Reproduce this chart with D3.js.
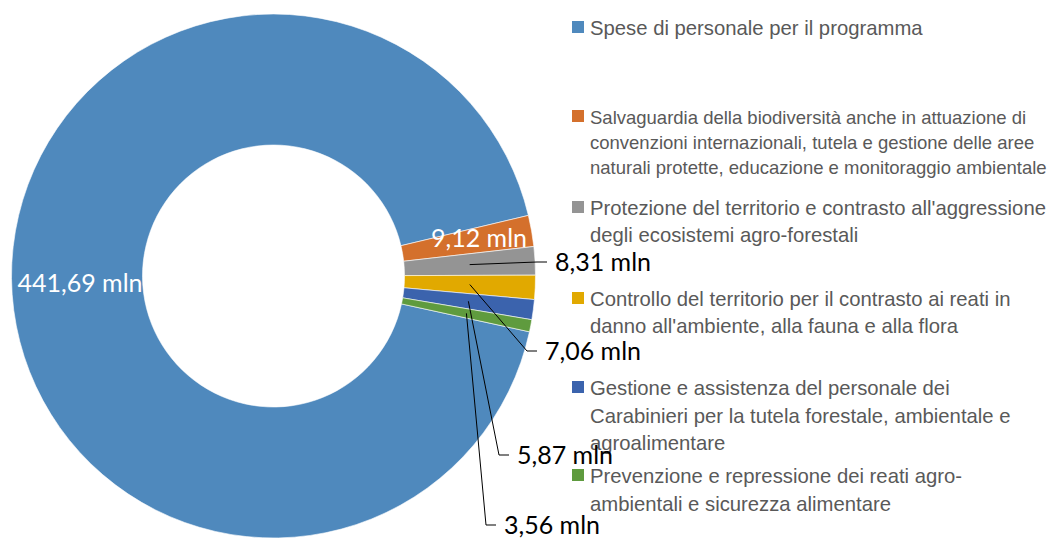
<!DOCTYPE html>
<html>
<head>
<meta charset="utf-8">
<script src="https://cdn.jsdelivr.net/npm/d3@7"></script>
<style>
  html, body { margin: 0; padding: 0; background: #fff; }
  svg { display: block; }
</style>
</head>
<body>
<div id="chart"></div>
<script>
// dati del grafico (milioni di euro)
const categories = [
  "Spese di personale per il programma",
  "Salvaguardia della biodiversità anche in attuazione di convenzioni internazionali, tutela e gestione delle aree naturali protette, educazione e monitoraggio ambientale",
  "Protezione del territorio e contrasto all'aggressione degli ecosistemi agro-forestali",
  "Controllo del territorio per il contrasto ai reati in danno all'ambiente, alla fauna e alla flora",
  "Gestione e assistenza del personale dei Carabinieri per la tutela forestale, ambientale e agroalimentare",
  "Prevenzione e repressione dei reati agro-ambientali e sicurezza alimentare"
];
const values = [441.69, 9.12, 8.31, 7.06, 5.87, 3.56];
const valueLabels = ["441,69 mln", "9,12 mln", "8,31 mln", "7,06 mln", "5,87 mln", "3,56 mln"];
// righe della legenda come vanno a capo nell'originale
const legendLines = [
  ["Spese di personale per il programma"],
  ["Salvaguardia della biodiversità anche in attuazione di",
   "convenzioni internazionali, tutela e gestione delle aree",
   "naturali protette, educazione e monitoraggio ambientale"],
  ["Protezione del territorio e contrasto all'aggressione",
   "degli ecosistemi agro-forestali"],
  ["Controllo del territorio per il contrasto ai reati in",
   "danno all'ambiente, alla fauna e alla flora"],
  ["Gestione e assistenza del personale dei",
   "Carabinieri per la tutela forestale, ambientale e",
   "agroalimentare"],
  ["Prevenzione e repressione dei reati agro-",
   "ambientali e sicurezza alimentare"]
];
const colors = ["#4f89bd", "#d4702c", "#949494", "#e1a900", "#3b63ad", "#5f9b3e"];

// layout
const W = 1050, H = 539;
const cx = 273.5, cy = 276, R = 262, r = 131;
const start = 102.3 * Math.PI / 180;
// legenda: linea di base della prima riga, dimensione carattere e interlinea di ogni voce
const legendBase = [35, 124, 215, 306, 395, 483];
const legendSize = [20.3, 18.5, 20.3, 20.3, 20.3, 20.3];
const legendLead = [26, 25, 26.5, 26.5, 27.5, 28];
// etichette esterne: gomito della linea guida (posizione manuale come nell'originale)
const elbows = { 2: [537, 262], 3: [527, 351], 4: [499, 455], 5: [486, 525] };
// spostamento delle etichette interne rispetto al centroide
const nudges = { 0: [3, 5], 1: [12, -4] };

const svg = d3.select("#chart").append("svg")
  .attr("width", W).attr("height", H);

const pie = d3.pie().sort(null).value(d => d)
  .startAngle(start).endAngle(start + 2 * Math.PI);
const arc = d3.arc().innerRadius(r).outerRadius(R);
const arcs = pie(values);

const g = svg.append("g").attr("transform", `translate(${cx},${cy})`);

g.selectAll("path.slice").data(arcs).enter().append("path")
  .attr("class", "slice")
  .attr("d", arc)
  .attr("fill", (d, i) => colors[i])
  .attr("stroke", "#fff").attr("stroke-width", 0.6);

// legenda
const legend = svg.append("g").attr("class", "legend");
const item = legend.selectAll("g").data(categories).enter().append("g")
  .attr("transform", (d, i) => `translate(572,${legendBase[i]})`);
item.append("rect").attr("y", -14).attr("width", 12).attr("height", 12)
  .attr("fill", (d, i) => colors[i]);
item.append("text")
  .attr("x", 18).attr("y", 0)
  .attr("font-family", "'Liberation Sans', Arial, sans-serif")
  .attr("font-size", (d, i) => legendSize[i])
  .attr("fill", "#595959")
  .each(function (d, i) {
    d3.select(this).selectAll("tspan").data(legendLines[i]).enter().append("tspan")
      .attr("x", 18)
      .attr("dy", (t, j) => j === 0 ? 0 : legendLead[i])
      .text(t => t);
  });

// etichette interne (bianche)
const inner = g.append("g");
inner.selectAll("text").data(arcs.filter(a => nudges[a.index])).enter().append("text")
  .attr("x", d => arc.centroid(d)[0] + nudges[d.index][0])
  .attr("y", d => arc.centroid(d)[1] + nudges[d.index][1])
  .attr("dy", "0.36em")
  .attr("text-anchor", "middle")
  .attr("font-family", "Lato, 'Open Sans', sans-serif")
  .attr("font-size", 25)
  .attr("fill", "#fff")
  .text(d => valueLabels[d.index]);

// foro centrale sopra le etichette (come nell'originale, l'etichetta viene tagliata)
g.append("circle").attr("r", r - 0.5).attr("fill", "#fff");

// etichette esterne con linee guida
const outer = svg.append("g");
const out = arcs.filter(a => elbows[a.index]);
outer.selectAll("polyline").data(out).enter().append("polyline")
  .attr("points", d => {
    const c = arc.centroid(d);
    const e = elbows[d.index];
    return [[cx + c[0], cy + c[1]], e, [e[0] + 10, e[1]]].map(p => p.join(",")).join(" ");
  })
  .attr("fill", "none").attr("stroke", "#000").attr("stroke-width", 1);
outer.selectAll("text").data(out).enter().append("text")
  .attr("x", d => elbows[d.index][0] + 18)
  .attr("y", d => elbows[d.index][1])
  .attr("dy", "0.36em")
  .attr("font-family", "Lato, 'Open Sans', sans-serif")
  .attr("font-size", 25)
  .attr("fill", "#000")
  .text(d => valueLabels[d.index]);
</script>
</body>
</html>
